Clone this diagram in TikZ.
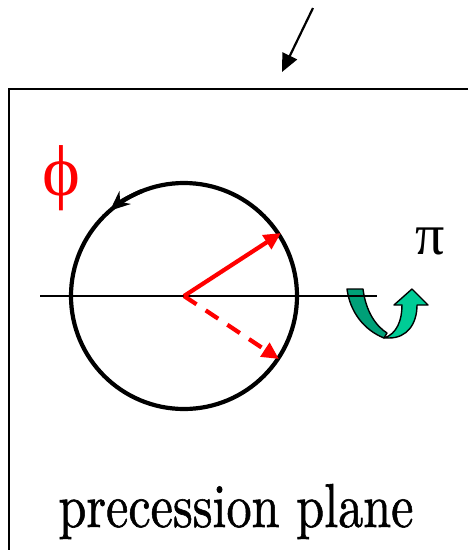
\documentclass[tikz,border=0pt]{standalone}
\usepackage{fontspec}
\newfontfamily\tms{Liberation Serif}
\newfontfamily\lmheavy{lmroman10-regular.otf}[FakeBold=1.0]
\usetikzlibrary{arrows.meta}
\definecolor{gdark}{RGB}{0,160,120}
\definecolor{glight}{RGB}{0,204,150}
\tikzset{
  frame/.style={line width=2.6pt,line cap=rect},
  thinaxis/.style={line width=2.2pt},
  ring/.style={line width=4.2pt},
  vec/.style={red,line width=4.2pt,-{Triangle[length=17pt,width=16pt]}},
  band/.style={draw=black,line width=1.4pt,line join=round}
}
\begin{document}
\begin{tikzpicture}[x=1pt,y=-1pt]
\useasboundingbox (0,0) rectangle (467,550);
% frame
\coordinate (fb) at (9,552);
\coordinate (fc) at (9,89);
\coordinate (fr) at (470,89);
\draw[frame] (fb) -- (fc) -- (fr);
% top arrow
\coordinate (ta) at (313,8);
\coordinate (tb) at (282,72);
\draw[line width=2.2pt,-{Triangle[length=18pt,width=16pt]}] (ta) -- (tb);
% green U-turn arrow
\path[band,fill=gdark] (347,289) -- (363,289) .. controls (366,312) and (376,326) .. (387,333) -- (384,338) .. controls (364,330) and (350,312) .. (347,289) -- cycle;
\path[band,fill=glight] (384,338) .. controls (397,334) and (402,320) .. (402,305) -- (394,305) -- (412,289) -- (428,305) -- (417,305) .. controls (417,324) and (407,338) .. (389,338) -- cycle;
% axis
\coordinate (al) at (40,296);
\coordinate (ar) at (377,296);
\draw[thinaxis] (al) -- (ar);
% circle
\node[circle,draw,ring,minimum size=226pt,inner sep=0pt] (c) at (184,296) {};
\draw[ring,-{Stealth[length=20pt,width=17pt]}] (184,296) ++(-112:113) arc[start angle=-112,end angle=-131,radius=113];
% vectors
\coordinate (o) at (184,296);
\coordinate (v1) at (281,233);
\coordinate (v2) at (279,359);
\draw[vec] (o) -- (v1);
\draw[vec,dash pattern=on 15pt off 11pt] (o) -- (v2);
% labels
\node[red,font=\tms\fontsize{72}{72}\selectfont,inner sep=0pt] (phi) at (61,178) {\symbol{"03D5}};
\node[font=\tms\fontsize{58}{58}\selectfont,inner sep=0pt] (pi) at (430,241) {π};
\node[font=\lmheavy\fontsize{62}{62}\selectfont,inner sep=0pt,anchor=base,xscale=0.81] (lab) at (236,527) {precession plane};
\end{tikzpicture}
\end{document}
